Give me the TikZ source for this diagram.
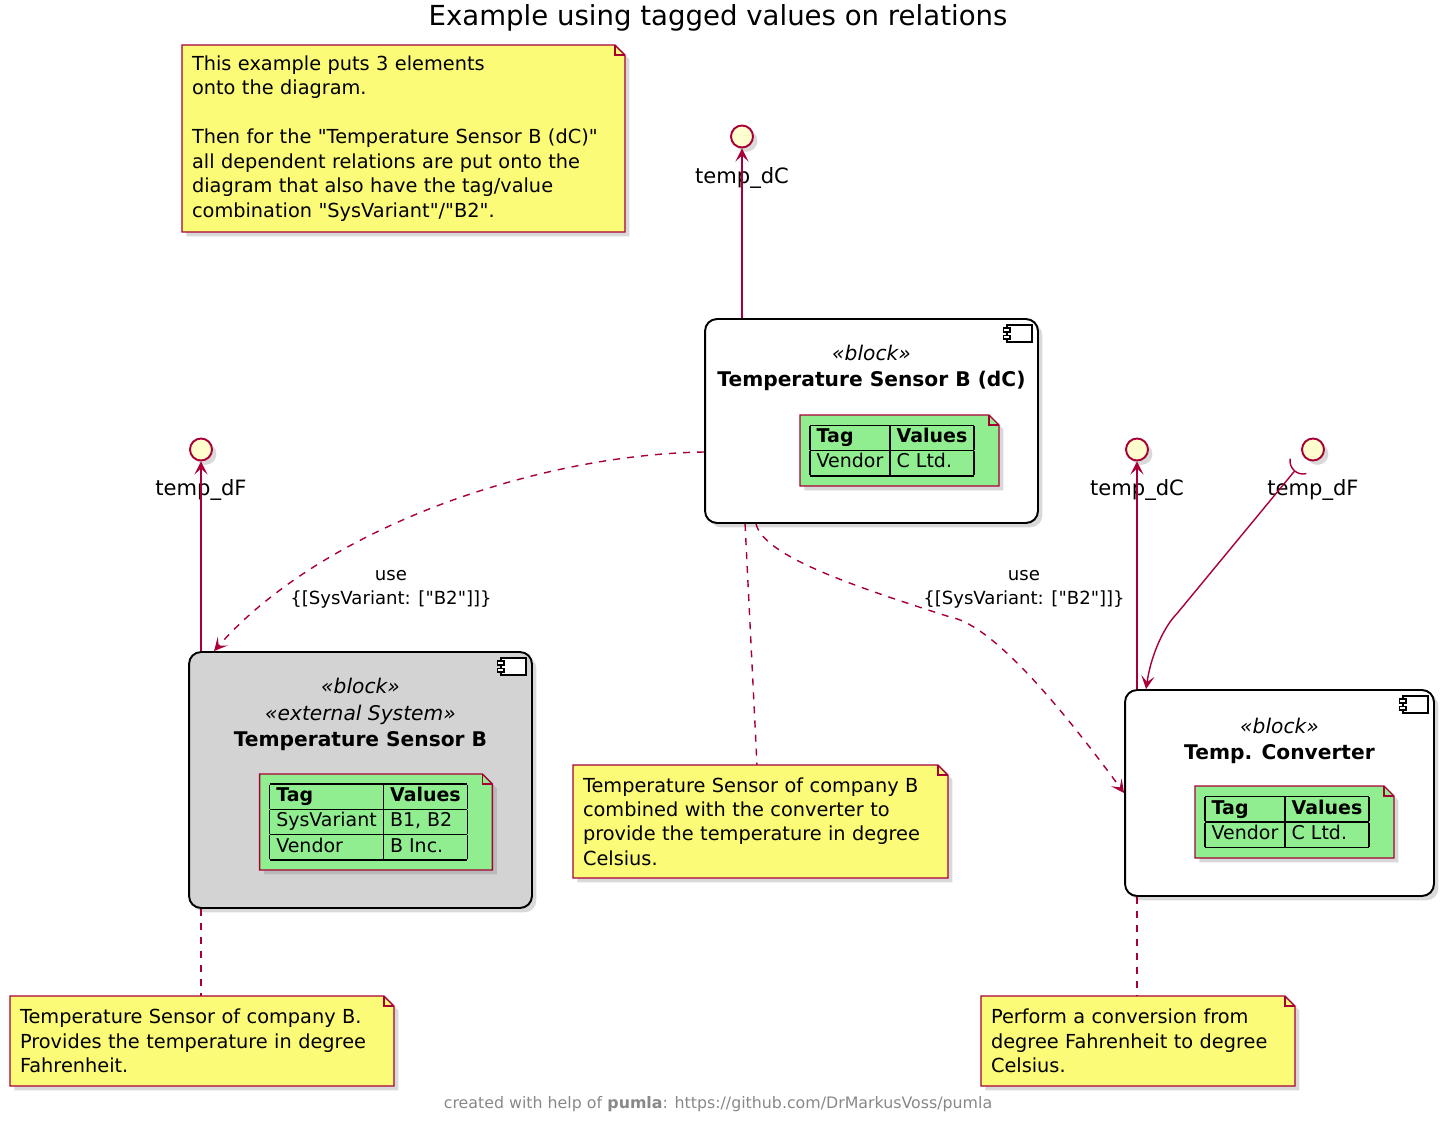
\documentclass[tikz,border=0pt]{standalone}
\usepackage{fontspec}
\setmainfont{DejaVu Sans}
\usepackage{tikz}
\usetikzlibrary{arrows.meta,shadows}
\definecolor{umlRed}{HTML}{A80036}
\definecolor{noteYellow}{HTML}{FBFB77}
\definecolor{ifaceYellow}{HTML}{FEFECE}
\definecolor{tagGreen}{HTML}{90EE90}
\definecolor{extGrey}{HTML}{D3D3D3}
\definecolor{footGrey}{HTML}{888888}
\pgfdeclarelayer{notebg}
\pgfdeclarelayer{notefg}
\pgfsetlayers{main,notebg,notefg}
\newcommand{\dq}{\textquotedbl}
\newcommand{\notefont}{\fontsize{11}{13.9}\selectfont}
\newcommand{\tagfont}{\fontsize{10.8}{13.6}\selectfont}
\newcommand{\compicon}[1]{%
  \begin{scope}[shift={(#1.north east)},line width=0.8pt]
    \draw[fill=white] (-32,7) rectangle (-7,24);
    \draw[fill=white] (-35.5,10) rectangle (-29,14);
    \draw[fill=white] (-35.5,17.5) rectangle (-29,21);
  \end{scope}}
\newcommand{\umlnote}[5][noteYellow]{%
  \begin{pgfonlayer}{notefg}\node[note,#3] (#2) at #4 {#5};\end{pgfonlayer}
  \begin{pgfonlayer}{notebg}
    \draw[notepaper,fill=#1,umlshadow] (#2.north west)--([xshift=-0.2cm]#2.north east)
      --([yshift=-0.2cm]#2.north east)--(#2.south east)--(#2.south west)--cycle;
    \draw[notepaper] ([xshift=-0.2cm]#2.north east)--([xshift=-0.2cm,yshift=-0.2cm]#2.north east)
      --([yshift=-0.2cm]#2.north east);
  \end{pgfonlayer}}
\setlength{\arrayrulewidth}{0.8pt}
\setlength{\tabcolsep}{3.8pt}

\begin{document}
\begin{tikzpicture}[x=0.02cm,y=-0.02cm,
  umlshadow/.style={drop shadow={shadow xshift=2.5pt,shadow yshift=-2.5pt,opacity=0.3}},
  comp/.style={draw=black,line width=1.1pt,rounded corners=0.24cm,fill=white,umlshadow},
  comptitle/.style={align=center,font=\fontsize{11.5}{15.2}\selectfont},
  note/.style={align=left,inner xsep=0.2cm,outer sep=0pt,font=\notefont},
  notepaper/.style={draw=umlRed,line width=0.8pt,line join=miter},
  tagnote/.style={font=\tagfont,inner ysep=0.12cm},
  iface/.style={circle,draw=umlRed,line width=1.1pt,fill=ifaceYellow,
    minimum size=0.44cm,inner sep=0pt,umlshadow},
  ifname/.style={font=\fontsize{12}{14}\selectfont},
  rel/.style={umlRed,line width=0.8pt,-{Stealth[length=7.5pt,width=7.5pt,inset=3.5pt]}},
  dep/.style={rel,dash pattern=on 4pt off 4pt},
  notelink/.style={umlRed,line width=0.8pt,dash pattern=on 4pt off 4pt},
  reltext/.style={align=center,font=\fontsize{10.3}{13.6}\selectfont}]
  \useasboundingbox (0,0) rectangle (1454,1122);

  \node[font=\fontsize{15.7}{18}\selectfont] (title) at (718,18)
    {Example using tagged values on relations};

  \umlnote{notea}{text width=8.46cm,minimum width=8.86cm,minimum height=3.74cm}{(403.5,138.5)}
    {This example puts 3 elements\\onto the diagram.\\[13.9pt]
    Then for the \dq Temperature Sensor B (dC)\dq\\all dependent relations are put onto the\\
    diagram that also have the tag/value\\combination \dq SysVariant\dq/\dq B2\dq.}

  \node[comp,minimum width=6.66cm,minimum height=4.08cm] (tsbdc) at (871.5,421) {};
  \compicon{tsbdc}
  \node[comptitle] (tsbdcname) at (871.5,368)
    {\textit{«block»}\\\textbf{Temperature Sensor B (dC)}};
  \umlnote[tagGreen]{tsbdctag}{tagnote,minimum height=1.42cm}{(899.5,450.5)}
    {\begin{tabular}{|l|l|}\hline
    \textbf{Tag}&\textbf{Values}\\\hline Vendor&C Ltd.\\\hline\end{tabular}\hspace*{0.3cm}}

  \node[comp,fill=extGrey,minimum width=6.86cm,minimum height=5.12cm] (tsb) at (360.5,780) {};
  \compicon{tsb}
  \node[comptitle] (tsbname) at (360.5,714.5)
    {\textit{«block»}\\\textit{«external System»}\\\textbf{Temperature Sensor B}};
  \umlnote[tagGreen]{tsbtag}{tagnote,minimum height=1.92cm}{(376,822)}
    {\begin{tabular}{|l|l|}\hline
    \textbf{Tag}&\textbf{Values}\\\hline SysVariant&B1, B2\\\hline
    Vendor&B Inc.\\\hline\end{tabular}\hspace*{0.3cm}}

  \node[comp,minimum width=6.18cm,minimum height=4.12cm] (tc) at (1279.5,793) {};
  \compicon{tc}
  \node[comptitle] (tcname) at (1279.5,741)
    {\textit{«block»}\\\textbf{Temp. Converter}};
  \umlnote[tagGreen]{tctag}{tagnote,minimum height=1.44cm}{(1294.5,822)}
    {\begin{tabular}{|l|l|}\hline
    \textbf{Tag}&\textbf{Values}\\\hline Vendor&C Ltd.\\\hline\end{tabular}\hspace*{0.3cm}}

  \umlnote{noteb}{text width=7.1cm,minimum width=7.5cm,minimum height=2.26cm}{(760.5,821.5)}
    {Temperature Sensor of company B\\combined with the converter to\\
    provide the temperature in degree\\Celsius.}
  \umlnote{notec}{text width=7.28cm,minimum width=7.68cm,minimum height=1.8cm}{(202,1041)}
    {Temperature Sensor of company B.\\Provides the temperature in degree\\Fahrenheit.}
  \umlnote{noted}{text width=5.88cm,minimum width=6.28cm,minimum height=1.8cm}{(1138,1041)}
    {Perform a conversion from\\degree Fahrenheit to degree\\Celsius.}

  \node[iface] (ifdca) at (742,136.5) {};
  \node[ifname] (ifdcaname) at (742,178) {temp\_dC};
  \node[iface] (ifdfa) at (201,449.5) {};
  \node[ifname] (ifdfaname) at (201,490) {temp\_dF};
  \node[iface] (ifdcb) at (1137,449.5) {};
  \node[ifname] (ifdcbname) at (1137,490) {temp\_dC};
  \node[iface] (ifdfb) at (1313,449.5) {};
  \node[ifname] (ifdfbname) at (1313,490) {temp\_dF};
  \coordinate (sktb) at ([shift={(-10,11.5)}]ifdfb.center);
  \coordinate (usebend) at (950,617);

  \draw[rel] (ifdca |- tsbdc.north)--(ifdca);
  \draw[rel] (ifdfa |- tsb.north)--(ifdfa);
  \draw[rel] (ifdcb |- tc.north)--(ifdcb);
  \draw[umlRed,line width=0.8pt] ([shift={(190:13)}]sktb) arc[start angle=190,end angle=75,radius=13];
  \draw[rel] ([shift={(130:13)}]sktb)--++(-118,143)
    .. controls +(-12,12) and +(5,-35) .. ([xshift=0.44cm]tc.north west);

  \draw[dep] ([yshift=-0.62cm]tsbdc.west) .. controls +(-173,3) and +(105,-120)
    .. ([xshift=0.52cm]tsb.north west);
  \node[reltext] (uselbla) at (391,589) {use\\\{[SysVariant: [\dq B2\dq]]\}};
  \draw[dep] ([xshift=1.04cm]tsbdc.south west) .. controls +(8,32) and +(-100,-32)
    .. (usebend) .. controls +(45,8) and +(-55,-75) .. (tc.west);
  \node[reltext] (uselblb) at (1024,589) {use\\\{[SysVariant: [\dq B2\dq]]\}};

  \draw[notelink] ([xshift=0.82cm]tsbdc.south west)--([xshift=-0.07cm]noteb.north);
  \draw[notelink] (ifdfa |- tsb.south)--(ifdfa |- notec.north);
  \draw[notelink] (ifdcb |- tc.south)--(ifdcb |- noted.north);

  \node[font=\fontsize{9}{11}\selectfont,text=footGrey] (footer) at (718,1104)
    {created with help of \textbf{pumla}: https://github.com/DrMarkusVoss/pumla};
\end{tikzpicture}
\end{document}
